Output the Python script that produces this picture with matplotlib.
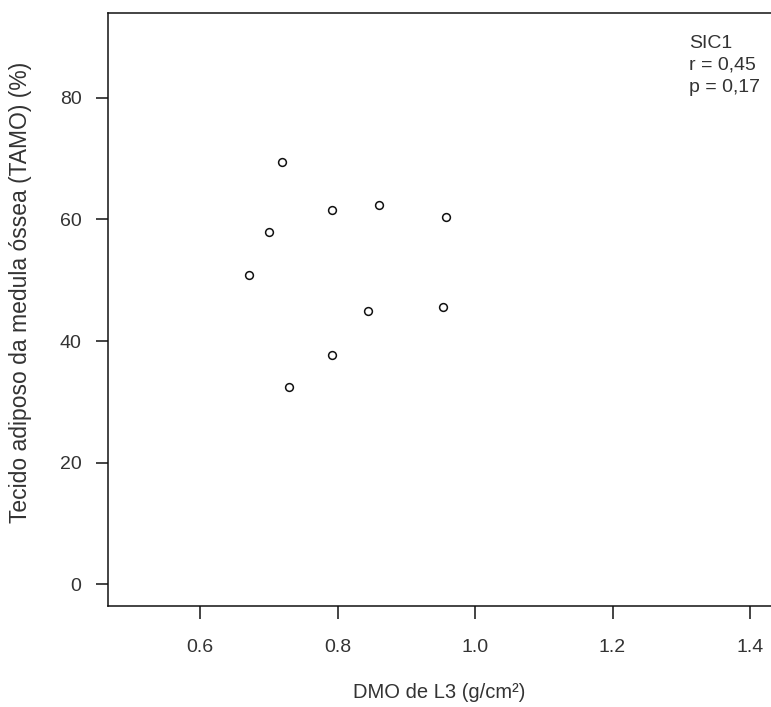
import numpy as np
import matplotlib.pyplot as plt

plt.rcParams['font.family'] = ['Liberation Sans', 'DejaVu Sans']

# DMO de L3 (g/cm2) vs TAMO (%)
dmo = [0.720, 0.792, 0.861, 0.958, 0.700, 0.672, 0.844, 0.953, 0.792, 0.729]
tamo = [69.4, 61.6, 62.4, 60.4, 57.9, 50.9, 44.9, 45.6, 37.7, 32.4]

xticks = [0.6, 0.8, 1.0, 1.2, 1.4]
yticks = [0, 20, 40, 60, 80]
annot = ["SIC1", "r = 0,45", "p = 0,17"]

fig = plt.figure(figsize=(7.71, 7.07), dpi=100)
ax = fig.add_axes([108/771, 101/707, (771-108)/771, 593/707])

ax.plot(dmo, tamo, 'o', mfc='none', mec='#111111', ms=5.6, mew=1.1)

ax.set_xlim(0.4662, 1.4305)
ax.set_ylim(-3.57, 93.96)
ax.set_xticks(xticks)
ax.set_xticklabels(["0.6", "0.8", "1.0", "1.2", "1.4"])
ax.set_yticks(yticks)
ax.tick_params(direction='out', length=9, width=1.1, labelsize=14,
               colors='#111111', labelcolor='#333333')
ax.tick_params(axis='x', pad=15)
ax.tick_params(axis='y', pad=10)
ax.spines['right'].set_visible(False)
for s in ['left', 'bottom', 'top']:
    ax.spines[s].set_linewidth(1.1)
    ax.spines[s].set_color('#111111')

ax.set_xlabel("DMO de L3 (g/cm²)", fontsize=14.5, color='#333333')
ax.set_ylabel("Tecido adiposo da medula óssea (TAMO) (%)", fontsize=16.5,
              color='#333333')
ax.xaxis.set_label_coords(0.5, -(692 - 606) / 593, transform=ax.transAxes)
ax.yaxis.set_label_coords(-(108 - 21) / 663, (606 - 292) / 593, transform=ax.transAxes)
ax.xaxis.label.set_va('center')
ax.yaxis.label.set_va('center')

for i, t in enumerate(annot):
    fig.text(689/771, 1 - (43 + 22.5*i)/707, t, fontsize=14, color='#333333',
             ha='left', va='center')

fig.savefig("out.png", dpi=100)
